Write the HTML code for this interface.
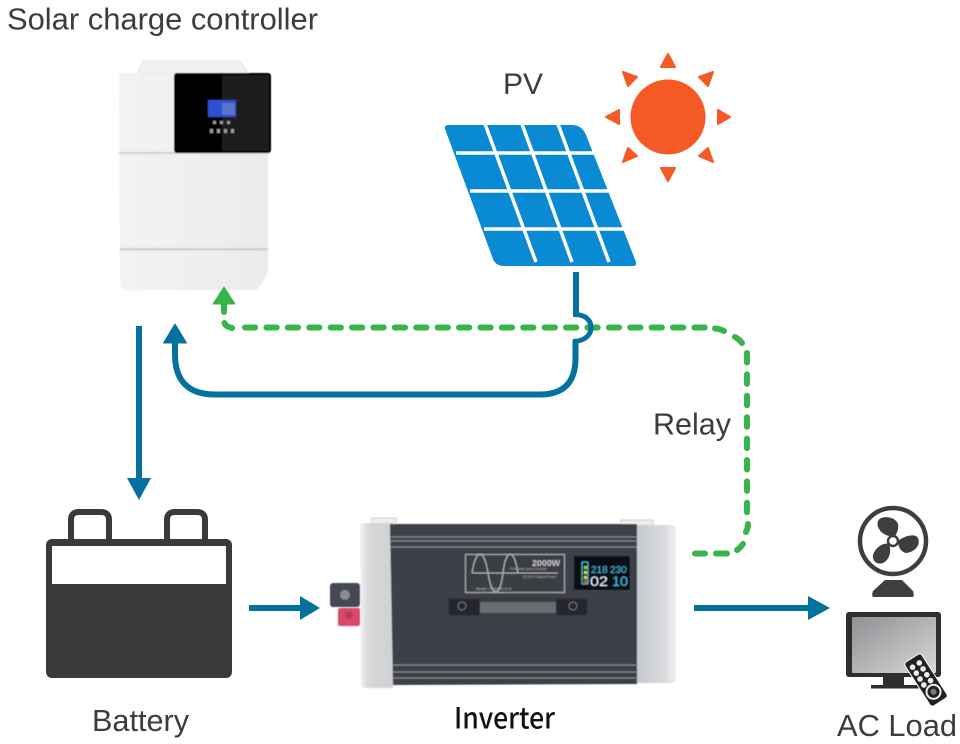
<!DOCTYPE html>
<html><head><meta charset="utf-8"><style>
html,body{margin:0;padding:0;background:#fff;width:960px;height:744px;overflow:hidden}
svg{display:block}
text{font-family:"Liberation Sans",sans-serif}
</style></head><body>
<svg width="960" height="744" viewBox="0 0 960 744" xmlns="http://www.w3.org/2000/svg">
<defs>
<linearGradient id="ctl" x1="0" y1="0" x2="1" y2="0"><stop offset="0" stop-color="#f3f3f3"/><stop offset="1" stop-color="#ebebeb"/></linearGradient>
<linearGradient id="silver" x1="0" y1="0" x2="1" y2="0"><stop offset="0" stop-color="#f2f2f3"/><stop offset=".25" stop-color="#d8d9db"/><stop offset="1" stop-color="#cfd0d3"/></linearGradient>
<linearGradient id="silver2" x1="0" y1="0" x2="1" y2="0"><stop offset="0" stop-color="#c6c9ce"/><stop offset=".7" stop-color="#d8dadd"/><stop offset="1" stop-color="#f0f0f1"/></linearGradient>
<linearGradient id="tv" x1="0" y1="0" x2="1" y2="1"><stop offset="0" stop-color="#909094"/><stop offset="1" stop-color="#d8d8da"/></linearGradient>
<filter id="b" x="-5%" y="-5%" width="110%" height="110%"><feGaussianBlur stdDeviation=".6"/></filter>
</defs>
<text x="7" y="29.500" font-size="31" fill="#3c3c3c" textLength="311" lengthAdjust="spacingAndGlyphs">Solar charge controller</text>
<text x="503" y="94" font-size="30" fill="#3c3c3c" textLength="40" lengthAdjust="spacingAndGlyphs">PV</text>
<text x="653" y="434.500" font-size="30.500" fill="#3c3c3c" textLength="78" lengthAdjust="spacingAndGlyphs">Relay</text>
<text x="92" y="731" font-size="30.500" fill="#3c3c3c" textLength="97" lengthAdjust="spacingAndGlyphs">Battery</text>
<text x="454" y="728.500" font-size="29" font-weight="500" fill="#111" style="font-family:'Noto Sans CJK SC','Liberation Sans',sans-serif" textLength="101" lengthAdjust="spacingAndGlyphs">Inverter</text>
<text x="837" y="736" font-size="30.500" fill="#3c3c3c" textLength="120" lengthAdjust="spacingAndGlyphs">AC Load</text>

<!-- Controller -->
<g filter="url(#b)">
<path d="M138 73 L143 61 H240 L248 73Z" fill="#f0f0f0" stroke="#e2e2e2"/>
<path d="M119 77 Q119 73 123 73 H268 V272 L261 285 Q259 290 252 290 H127 Q120 290 120 283Z" fill="url(#ctl)"/>
<rect x="119" y="152" width="150" height="2" fill="#d0d0d0"/>
<rect x="120" y="248" width="148" height="2.500" fill="#cfcfcf"/>
<rect x="174" y="73" width="97" height="80" rx="3" fill="#050505"/>
<rect x="222" y="75" width="47" height="76" fill="#1b1b1b"/>
<rect x="208" y="100" width="28" height="17" fill="#2d4fd0"/>
<rect x="222" y="103" width="13" height="12" fill="#5a76c8"/>
<g fill="#9a9a9a"><rect x="213" y="121" width="3" height="3"/><rect x="220" y="121" width="3" height="3"/><rect x="227" y="121" width="3" height="3"/><rect x="210" y="129" width="3" height="4"/><rect x="217" y="129" width="3" height="4"/><rect x="224" y="129" width="3" height="4"/><rect x="231" y="129" width="3" height="4"/></g>
</g>

<!-- PV panel -->
<path d="M449 125 H572 Q582 125 586 135 L636 262 Q637 266 633 266 H504 Q496 266 493 259 L445 129 Q444 125 449 125Z" fill="#0a8ad3"/>
<g stroke="#fff" stroke-width="3.500" fill="none">
<path d="M456 153 H596M470 191 H610M484 229 H624"/>
<path d="M485 124 L536 262M522 124 L572 262M558 124 L609 262"/>
</g>

<!-- Sun -->
<circle cx="668" cy="117" r="37.500" fill="#f55a26"/>
<g fill="#f55a26" stroke="#f55a26" stroke-width="2" stroke-linejoin="round">
<path d="M668 54 L675 67 H661Z"/>
<path d="M668 181 L675 168 H661Z"/>
<path d="M606 117 L619 110 V124Z"/>
<path d="M730 117 L718 110 V124Z"/>
<path d="M623 72 L637 77 L628 86Z"/>
<path d="M713 72 L699 77 L708 86Z"/>
<path d="M623 162 L637 156 L628 148Z"/>
<path d="M713 162 L699 156 L708 148Z"/>
</g>

<!-- Green dashed -->
<g fill="none" stroke="#37b44a" stroke-width="6" stroke-linecap="round">
<path d="M224 304 V312"/>
<path d="M224.500 323 Q226 327 232 328"/>
<path d="M245 327.500 H706" stroke-dasharray="10.300 11.100"/>
<path d="M715 328.500 Q720 329 724 331"/>
<path d="M735 337 Q739 339 742 343"/>
<path d="M747 353 V515" stroke-dasharray="9.500 11.900"/>
<path d="M748 524 Q748 528 746 532"/>
<path d="M743 544 Q740 548 737 550"/>
<path d="M727 553.500 H716"/>
<path d="M705 553.500 H695"/>
</g>
<path d="M224 287 L235 304 H213Z" fill="#37b44a" stroke="#37b44a" stroke-width="1" stroke-linejoin="round"/>

<!-- Blue wires -->
<g fill="none" stroke="#04719f" stroke-width="6">
<path d="M576 272 V315M575.500 340 V358 Q575.500 394.500 540 394.500 H215 Q175 394.500 175 354 V340"/>
<path d="M573 314.500 C585 314 591 320 591 327.500 C591 335 585 341 573 341.500" stroke-width="5"/>
<path d="M139 326 V482"/>
<path d="M249 608 H304"/>
<path d="M694 608 H812"/>
</g>
<path d="M175 324 L186.500 343 H163.500Z" fill="#04719f" stroke="#04719f" stroke-width="1" stroke-linejoin="round"/>
<path d="M139 500 L151 478 H127Z" fill="#04719f"/>
<path d="M320 608 L300 596 V620Z" fill="#04719f"/>
<path d="M830 608 L808 596 V620Z" fill="#04719f"/>

<!-- Battery -->
<path d="M71 540 V520 Q71 512 79 512 H101 Q109 512 109 520 V540M167 540 V520 Q167 512 175 512 H197 Q205 512 205 520 V540" fill="none" stroke="#3a3a3a" stroke-width="6"/>
<rect x="46" y="539" width="186" height="139" rx="6" fill="#3a3a3a"/>
<rect x="52" y="546" width="174" height="38" fill="#fff"/>

<!-- Inverter -->
<g filter="url(#b)">
<rect x="372" y="518" width="24" height="7" fill="#eee" stroke="#ccc"/>
<rect x="621" y="520" width="32" height="6" fill="#eee" stroke="#ccc"/>
<rect x="330" y="583" width="30" height="24" rx="3" fill="#454a55"/>
<circle cx="345" cy="595" r="5" fill="#8b8d90"/>
<rect x="338" y="608" width="22" height="18" rx="2" fill="#d9496b"/>
<circle cx="349" cy="615" r="4" fill="#b83a58"/>
<path d="M360 527 Q360 523 364 523 H393 V688 H366 Q361 688 361 684Z" fill="url(#silver)"/>
<path d="M637 525 H672 Q676 525 676 529 V680 Q676 683 672 683 H637Z" fill="url(#silver2)"/>
<path d="M390 524 H637 V684 L393 685Z" fill="#3c3f48"/>
<g stroke="#8a8c92" stroke-width="1.300">
<path d="M391 537 H637M391 541 H637M391 547 H637"/>
<path d="M393 665 H636M393 672 H636M393 678 H636"/>
</g>
<rect x="465.500" y="554.500" width="99" height="38" fill="#3a3d45" stroke="#a9aaa8" stroke-width="1.200"/>
<path d="M472 573 C476 548 484 548 488 573 C492 598 500 598 503 573 C506 548 514 548 518 573" fill="none" stroke="#b5b6b3" stroke-width="1.200"/>
<path d="M472 573 H558" stroke="#b5b6b3" stroke-width="1"/>
<text x="532" y="566" font-size="8.500" fill="#c8c8c8" font-weight="bold" textLength="28" lengthAdjust="spacingAndGlyphs">2000W</text>
<text x="510" y="570" font-size="3.500" fill="#b0b0b0">Pure sine wave inverter</text>
<text x="523" y="578" font-size="3.500" fill="#b0b0b0">DC12V Output Power</text>
<text x="476" y="590" font-size="4" fill="#bbb">Model: FS2000-D-S</text>
<rect x="574" y="556" width="56" height="34" rx="2" fill="#0a0c12"/>
<rect x="582" y="562" width="6" height="22" rx="1" fill="none" stroke="#3fb8d8" stroke-width="1.300"/>
<rect x="584" y="566" width="3" height="3" fill="#9fd33f"/><rect x="584" y="571" width="3" height="3" fill="#e8d23a"/><rect x="584" y="576" width="3" height="3" fill="#e8d23a"/><rect x="584" y="580" width="3" height="3" fill="#e04a3a"/>
<text x="591" y="573" font-size="10" fill="#47b8e0">218</text>
<text x="610" y="573" font-size="10" fill="#47b8e0">230</text>
<text x="590" y="586" font-size="14" fill="#dff3fb" textLength="18" lengthAdjust="spacingAndGlyphs">02</text>
<text x="612" y="586" font-size="14" fill="#35c5e8" textLength="16" lengthAdjust="spacingAndGlyphs">10</text>
<rect x="447" y="597" width="141" height="20" fill="#383b42"/>
<rect x="449" y="599" width="31" height="16" rx="2" fill="#26282d"/>
<rect x="556" y="599" width="31" height="16" rx="2" fill="#26282d"/>
<rect x="480" y="602" width="76" height="11" fill="#6a6c70"/>
<circle cx="462" cy="606" r="4" fill="none" stroke="#777"/>
<circle cx="573" cy="606" r="4" fill="none" stroke="#777"/>
</g>

<!-- Fan -->
<circle cx="893" cy="541" r="33" fill="#fff" stroke="#3e3e3e" stroke-width="4.500"/>
<g fill="#3e3e3e">
<path d="M889 536 C880 534 876 526 878 521 C881 515 895 516 898 524 C899 529 897 533 895 536Z"/>
<path d="M898 541 C904 536 915 533 918 538 C921 545 915 552 906 553 C901 552 898 547 898 541Z"/>
<path d="M889 544 C883 542 875 548 873 555 C872 562 878 565 883 563 C889 560 892 552 889 544Z"/>
</g>
<circle cx="893" cy="541" r="5" fill="#fff" stroke="#3e3e3e" stroke-width="2.500"/>
<path d="M885 580 H902 L913 591 Q915 597 912 597 H874 Q871 597 873 591Z" fill="#3e3e3e"/>

<!-- TV -->
<rect x="846" y="612" width="95" height="65" rx="3" fill="#2e2e2e"/>
<rect x="852" y="617" width="84" height="56" rx="1" fill="url(#tv)"/>
<rect x="883" y="677" width="21" height="9" fill="#2e2e2e"/>
<rect x="871" y="685" width="50" height="3.500" fill="#2e2e2e"/>
<g transform="translate(926 680) rotate(-32.500)">
<rect x="-10" y="-26" width="20" height="52" rx="3" fill="#222" stroke="#fff" stroke-width="1"/>
<g fill="#eee"><circle cx="-4.500" cy="-18" r="2.800"/><circle cx="3.500" cy="-18" r="2.800"/><circle cx="-4.500" cy="-11" r="2.800"/><circle cx="3.500" cy="-11" r="2.800"/><circle cx="-4.500" cy="-4" r="2.800"/><circle cx="3.500" cy="-4" r="2.800"/><circle cx="-4.500" cy="3" r="2.800"/><circle cx="3.500" cy="3" r="2.800"/></g>
<circle cx="0" cy="14" r="7" fill="none" stroke="#eee" stroke-width="2"/>
<circle cx="0" cy="14" r="3" fill="#777"/>
</g>
</svg>
</body></html>
